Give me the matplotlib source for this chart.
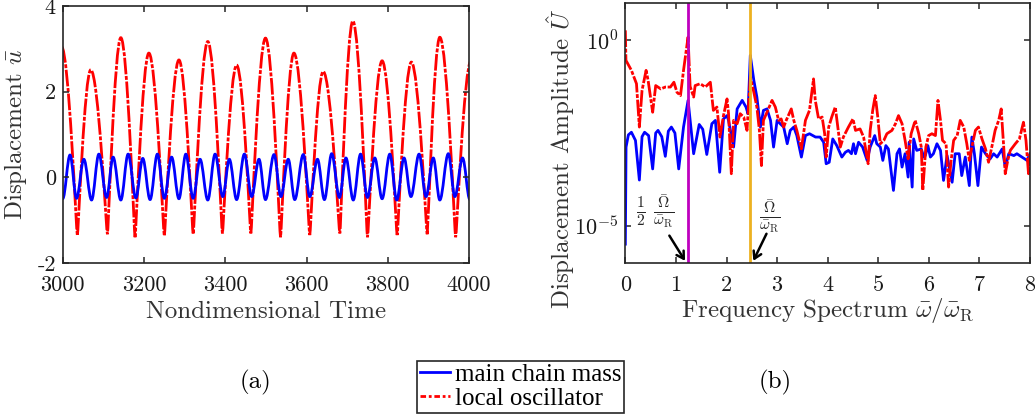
import numpy as np
import matplotlib
matplotlib.use('Agg')
import matplotlib.pyplot as plt
from matplotlib.path import Path
from matplotlib.patches import PathPatch
from matplotlib.lines import Line2D
from matplotlib.ticker import NullLocator

plt.rcParams['font.family'] = 'cmr10'
plt.rcParams['mathtext.fontset'] = 'cm'
plt.rcParams['axes.unicode_minus'] = False
plt.rcParams['axes.formatter.use_mathtext'] = True

# (a) time response: turning points
red_t = [2997, 3036, 3069, 3110, 3143, 3178, 3212, 3250, 3286, 3321, 3357, 3393, 3428, 3463, 3499,
         3536, 3569, 3608, 3641, 3682, 3714, 3750, 3786, 3823, 3858, 3897, 3928, 3967, 4005]
red_u = [3.05, -1.36, 2.51, -1.33, 3.26, -1.40, 2.90, -1.37, 2.74, -1.33, 3.17, -1.31, 2.62, -1.31, 3.25,
         -1.40, 2.90, -1.35, 2.47, -1.31, 3.65, -1.40, 2.72, -1.35, 2.69, -1.33, 3.27, -1.40, 2.72]

blue_t = [3000, 3018, 3034, 3052, 3071, 3089, 3108, 3124, 3143, 3161, 3180, 3197, 3215, 3233, 3250,
          3268, 3286, 3303, 3321, 3338, 3357, 3375, 3394, 3410, 3428, 3447, 3465, 3483, 3499, 3520,
          3537, 3555, 3571, 3592, 3608, 3627, 3644, 3662, 3681, 3697, 3715, 3733, 3750, 3768, 3786,
          3805, 3822, 3840, 3857, 3877, 3894, 3912, 3928, 3949, 3965, 3984, 4002]
blue_u = [-0.50, 0.52, -0.49, 0.42, -0.53, 0.54, -0.47, 0.47, -0.53, 0.54, -0.48, 0.44, -0.52, 0.54, -0.49,
          0.47, -0.50, 0.54, -0.49, 0.42, -0.53, 0.54, -0.45, 0.42, -0.52, 0.54, -0.45, 0.42, -0.52, 0.53,
          -0.45, 0.42, -0.52, 0.53, -0.45, 0.42, -0.52, 0.55, -0.47, 0.45, -0.53, 0.54, -0.47, 0.45, -0.50,
          0.54, -0.53, 0.45, -0.45, 0.54, -0.45, 0.45, -0.53, 0.55, -0.45, 0.45, -0.52]

# (b) spectrum: frequency and log10 amplitude
blue_f = [0, 0.014, 0.06, 0.12, 0.2, 0.277, 0.33, 0.38, 0.46, 0.54, 0.6, 0.646, 0.72, 0.79, 0.85, 0.91,
          0.98, 1.055, 1.15, 1.24, 1.35, 1.46, 1.53, 1.61, 1.71, 1.78, 1.865, 1.94, 2.01,
          2.04, 2.14, 2.21, 2.31, 2.385, 2.425, 2.47, 2.54, 2.60, 2.67, 2.73, 2.80, 2.87, 2.93, 3.0,
          3.06, 3.13, 3.2, 3.26, 3.33, 3.39, 3.48, 3.56, 3.64, 3.76, 3.85, 3.92, 3.97,
          4.03, 4.1, 4.18, 4.28, 4.35, 4.41, 4.47, 4.51, 4.55, 4.61, 4.69, 4.78, 4.84, 4.93, 4.97,
          5.04, 5.09, 5.15, 5.2, 5.30, 5.37, 5.42, 5.47, 5.53, 5.59, 5.61, 5.67, 5.7, 5.76, 5.85,
          5.9, 5.93, 5.98, 6.03, 6.09, 6.16, 6.23, 6.29, 6.36, 6.46, 6.52, 6.6, 6.65, 6.72, 6.8,
          6.85, 6.9, 6.97, 7.04, 7.12, 7.21, 7.28, 7.35, 7.45, 7.51, 7.58, 7.68, 7.74, 7.84, 7.94, 8.0]
blue_log = [-5.5, -2.88, -2.55, -2.48, -2.70, -3.77, -2.6, -2.48, -2.57, -3.47, -2.5, -2.43, -2.6, -3.13, -2.45, -2.34,
            -2.5, -3.47, -2.34, -1.62, -3.06, -2.27, -2.4, -3.08, -2.25, -2.16, -3.56, -2.12, -2.03,
            -2.16, -2.88, -1.85, -1.62, -1.80, -1.98, -0.405, -1.08, -1.53, -2.34, -1.89, -1.85, -2.16, -2.88, -2.16,
            -2.25, -2.34, -2.79, -2.43, -2.34, -2.57, -3.15, -2.57, -2.52, -2.61, -2.61, -2.75, -3.33,
            -3.29, -2.66, -2.84, -3.15, -3.02, -2.97, -3.06, -2.79, -3.06, -2.75, -2.88, -3.24, -2.88, -2.57, -2.79,
            -2.88, -3.24, -2.84, -2.93, -4.05, -3.06, -2.93, -3.42, -3.06, -3.69, -2.75, -3.96, -2.66, -2.97, -2.93,
            -3.15, -3.11, -2.84, -3.15, -3.06, -2.79, -2.97, -3.78, -3.11, -3.83, -3.06, -3.06, -3.65, -3.15, -3.92,
            -2.61, -3.06, -3.92, -2.88, -3.06, -3.20, -3.06, -3.15, -2.93, -3.42, -3.06, -3.11, -3.06, -3.15, -3.24, -3.06]

red_f = [0, 0.012, 0.12, 0.22, 0.277, 0.33, 0.41, 0.45, 0.54, 0.6, 0.7, 0.79, 0.89, 0.96, 1.02, 1.09,
         1.15, 1.24, 1.28, 1.35, 1.38, 1.48, 1.58, 1.68, 1.74, 1.81, 1.87, 1.94,
         2.01, 2.04, 2.095, 2.14, 2.21, 2.27, 2.34, 2.405, 2.47, 2.54, 2.60, 2.65, 2.69, 2.73, 2.80, 2.90,
         2.965, 3.03, 3.08, 3.13, 3.18, 3.28, 3.33, 3.39, 3.48, 3.56, 3.64, 3.72, 3.755, 3.82, 3.89,
         3.94, 3.97, 4.02, 4.08, 4.15, 4.2, 4.25, 4.31, 4.41, 4.5, 4.55, 4.64, 4.71, 4.8, 4.84, 4.89,
         4.94, 4.99, 5.04, 5.11, 5.17, 5.27, 5.34, 5.40, 5.47, 5.53, 5.59, 5.65, 5.73, 5.80, 5.85, 5.88,
         5.94, 5.995, 6.06, 6.13, 6.18, 6.23, 6.27, 6.34, 6.39, 6.44, 6.49, 6.56, 6.62, 6.69, 6.75, 6.80,
         6.85, 6.92, 6.98, 7.05, 7.12, 7.18, 7.25, 7.31, 7.38, 7.43, 7.48, 7.51, 7.56, 7.61, 7.71, 7.79,
         7.87, 7.92, 7.97, 8.0]
red_log = [0.27, -0.54, -0.81, -1.17, -2.34, -1.35, -0.81, -1.08, -1.94, -1.22, -1.31, -1.26, -1.26, -1.13, -1.40, -1.49,
           -0.81, 0.09, -1.24, -1.53, -1.22, -1.17, -1.26, -1.13, -1.89, -1.80, -2.61, -2.03,
           -1.58, -1.98, -3.6, -2.16, -2.25, -1.98, -2.07, -2.43, -0.99, -1.40, -1.80, -2.43, -3.38, -2.16, -1.94, -1.62,
           -1.80, -2.16, -2.12, -2.34, -2.16, -1.85, -2.16, -2.43, -2.93, -2.16, -1.89, -1.04, -1.62, -2.12, -2.07,
           -2.52, -3.15, -2.34, -2.07, -1.80, -2.34, -2.88, -2.61, -2.34, -2.12, -2.43, -2.39, -2.61, -3.33, -2.43, -1.89,
           -1.49, -2.07, -2.79, -2.70, -2.52, -2.43, -2.25, -2.03, -2.25, -2.70, -3.2, -2.52, -2.16, -2.52, -2.88, -4.05,
           -2.88, -2.57, -2.52, -2.57, -1.62, -2.16, -2.70, -2.79, -3.96, -3.24, -2.70, -2.57, -2.16, -2.34, -2.79, -3.24,
           -2.88, -2.43, -2.34, -2.66, -2.93, -3.29, -2.84, -2.43, -2.16, -1.85, -2.88, -3.6, -3.24, -2.97, -2.79, -2.66,
           -2.21, -2.70, -3.6, -3.06]

half_omega = 1.235
omega = 2.47


def wave_path(t, y, peak_k=0.36, trough_k=0.36):
    # smooth curve through the turning points (flat at peaks, pointed at troughs if trough_k small)
    verts = [(t[0], y[0])]
    codes = [Path.MOVETO]
    for i in range(len(t) - 1):
        dt = t[i + 1] - t[i]
        k0 = peak_k if y[i] > y[i + 1] else trough_k
        k1 = peak_k if y[i + 1] > y[i] else trough_k
        verts += [(t[i] + k0 * dt, y[i]), (t[i + 1] - k1 * dt, y[i + 1]), (t[i + 1], y[i + 1])]
        codes += [Path.CURVE4] * 3
    return Path(verts, codes)


blue = (0, 0, 1)
red = (1, 0, 0)
red_ls = (0, (6, 0.6, 1.4, 0.6))
spine_c = '0.15'
fs = 16
lfs = 18

fig = plt.figure(figsize=(10.35, 4.18), dpi=100)
ax1 = fig.add_axes([0.0606, 0.371, 0.3926, 0.6146])
ax2 = fig.add_axes([0.6042, 0.3716, 0.391, 0.6205])

ax1.add_patch(PathPatch(wave_path(red_t, red_u, 0.45, 0.06), fill=False, edgecolor=red, lw=2, linestyle=red_ls))
ax1.add_patch(PathPatch(wave_path(blue_t, blue_u), fill=False, edgecolor=blue, lw=2))
ax1.set_xlim(3000, 4000)
ax1.set_ylim(-2, 4)
ax1.set_xticks([3000, 3200, 3400, 3600, 3800, 4000], ['3000', '3200', '3400', '3600', '3800', '4000'])
ax1.set_yticks([-2, 0, 2, 4], ['-2', '0', '2', '4'])
ax1.set_xlabel('Nondimensional Time', fontsize=lfs, labelpad=4)
ax1.set_ylabel(r'Displacement $\bar{u}$', fontsize=lfs)
ax1.yaxis.set_label_coords(-0.083, 0.5)

ax2.semilogy(blue_f, 10.0 ** np.array(blue_log), color=blue, lw=2)
ax2.semilogy(red_f, 10.0 ** np.array(red_log), color=red, lw=2, linestyle=red_ls)
ax2.axvline(half_omega, color=(0.75, 0, 0.75), lw=2)
ax2.axvline(omega, color=(0.929, 0.694, 0.125), lw=2)
ax2.set_xlim(0, 8)
ax2.set_ylim(1e-6, 1e1)
ax2.set_xticks(range(9), [str(i) for i in range(9)])
ax2.set_yticks([1e-5, 1e0], [r'$10^{-5}$', r'$10^{0}$'])
ax2.yaxis.set_minor_locator(NullLocator())
ax2.set_xlabel(r'Frequency Spectrum $\bar{\omega}/\bar{\omega}_{\rm R}$', fontsize=lfs, labelpad=1)
ax2.set_ylabel(r'Displacement Amplitude $\hat{U}$', fontsize=lfs)
ax2.yaxis.set_label_coords(-0.12, 0.40)

ax2.text(0.59, 10 ** -4.64, r'$\frac{1}{2}\ \frac{\bar{\Omega}}{\bar{\omega}_{\rm R}}$', fontsize=16,
         ha='center', va='center', color='0.15')
ax2.text(2.86, 10 ** -4.77, r'$\frac{\bar{\Omega}}{\bar{\omega}_{\rm R}}$', fontsize=16, ha='center',
         va='center', color='0.15')
arrow = dict(arrowstyle='->, head_length=0.5, head_width=0.3', color='k', lw=1.8, shrinkA=0, shrinkB=0)
ax2.annotate('', xy=(1.18, 10 ** -5.95), xytext=(0.87, 10 ** -5.27), arrowprops=arrow)
ax2.annotate('', xy=(2.53, 10 ** -5.95), xytext=(2.79, 10 ** -5.22), arrowprops=arrow)

for ax in (ax1, ax2):
    ax.tick_params(which='both', direction='in', top=True, right=True, length=4, width=1.1,
                   labelsize=fs, colors=spine_c, labelcolor='0.1')
    ax.tick_params(axis='x', pad=9)
    ax.tick_params(axis='y', pad=5)
    for s in ax.spines.values():
        s.set_linewidth(1.2)
        s.set_color(spine_c)
    ax.xaxis.label.set_color('0.2')
    ax.yaxis.label.set_color('0.2')

handles = [Line2D([], [], color=blue, lw=2), Line2D([], [], color=red, lw=2, linestyle=(0, (2, 1, 1, 1)))]
leg = fig.legend(handles, ['main chain mass', 'local oscillator'], loc='lower left',
                 bbox_to_anchor=(0.4026, 0.012), prop={'family': 'Liberation Serif', 'size': 18},
                 fancybox=False, edgecolor='0.15', framealpha=1, borderpad=0.12, labelspacing=0.05,
                 handlelength=1.2, handletextpad=0.2, borderaxespad=0)
leg.get_frame().set_linewidth(1.2)

fig.text(0.247, 0.084, '(a)', fontsize=18, ha='center', va='center')
fig.text(0.749, 0.084, '(b)', fontsize=18, ha='center', va='center')

fig.savefig('out.png', dpi=100)
